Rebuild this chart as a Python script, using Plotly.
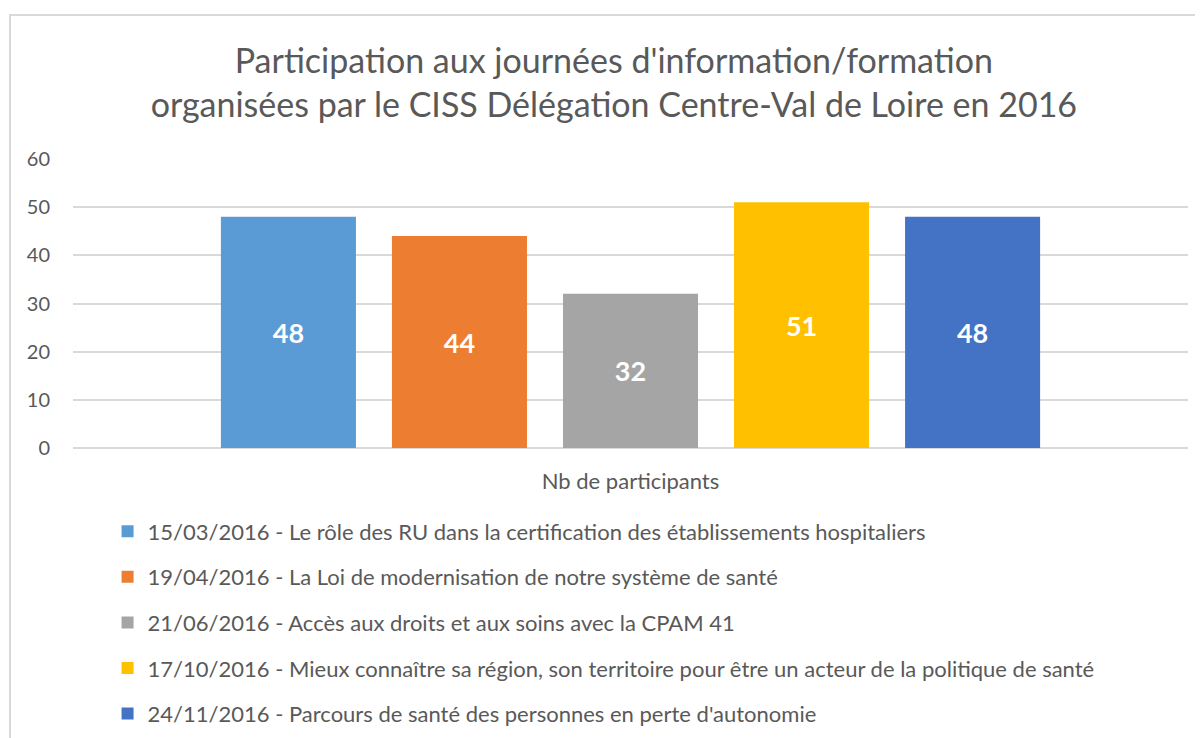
import plotly.graph_objects as go

# Data
category = ["Nb de participants"]
sessions = [
    "15/03/2016 - Le rôle des RU dans la certification des établissements hospitaliers",
    "19/04/2016 - La Loi de modernisation de notre système de santé",
    "21/06/2016 - Accès aux droits et aux soins avec la CPAM 41",
    "17/10/2016 - Mieux connaître sa région, son territoire pour être un acteur de la politique de santé",
    "24/11/2016 - Parcours de santé des personnes en perte d'autonomie",
]
participants = [48, 44, 32, 51, 48]

# Office theme colours
colors = ['#5B9BD5', '#ED7D31', '#A5A5A5', '#FFC000', '#4472C4']

font_name = "Lato"
grey_text = '#595959'
grid_grey = '#D9D9D9'

fig = go.Figure()
for i, (name, val) in enumerate(zip(sessions, participants)):
    fig.add_trace(go.Bar(
        x=category, y=[val], name=name,
        marker=dict(color=colors[i], line=dict(width=0)),
        text=[val], textposition='inside', insidetextanchor='middle',
        textfont=dict(family=font_name, size=27, color='white', weight='bold'),
        legendgroup=f"g{i}",
        hoverinfo='y+name',
    ))

# the page body has an 8px margin, so the figure is 8px smaller than the window
fig.update_layout(
    width=1195, height=730,
    margin=dict(l=65, r=15, t=151, b=290, autoexpand=False),
    paper_bgcolor='white', plot_bgcolor='white',
    font=dict(family=font_name, color=grey_text),
    barmode='group', bargap=0.233, bargroupgap=0.2105,
    title=dict(
        text="Participation aux journées d'information/formation<br>"
             "organisées par le CISS Délégation Centre-Val de Loire en 2016",
        x=0.507, xref='container', xanchor='center',
        y=0.911, yref='container', yanchor='top',
        font=dict(family=font_name, size=34, color=grey_text),
    ),
    legend=dict(
        orientation='v', x=0.031, xanchor='left', y=-0.216, yanchor='top',
        font=dict(family=font_name, size=22, color=grey_text),
        tracegroupgap=14, itemwidth=30,
    ),
    showlegend=True,
)

fig.update_yaxes(
    range=[0, 60], dtick=10, showgrid=True, gridcolor=grid_grey, gridwidth=1.5,
    zeroline=True, zerolinecolor=grid_grey, zerolinewidth=1.5,
    showline=False, ticks='', ticklabelstandoff=22,
    tickfont=dict(family=font_name, size=20, color=grey_text),
)
fig.update_xaxes(
    showline=False, ticks='', ticklabelstandoff=18,
    tickfont=dict(family=font_name, size=22, color=grey_text),
)

# chart border
fig.add_shape(type='rect', xref='paper', yref='paper',
              x0=-0.0565, x1=1.02, y0=-1.03, y1=1.498,
              line=dict(color=grid_grey, width=2), fillcolor='rgba(0,0,0,0)', layer='below')

fig.write_html("out.html")
